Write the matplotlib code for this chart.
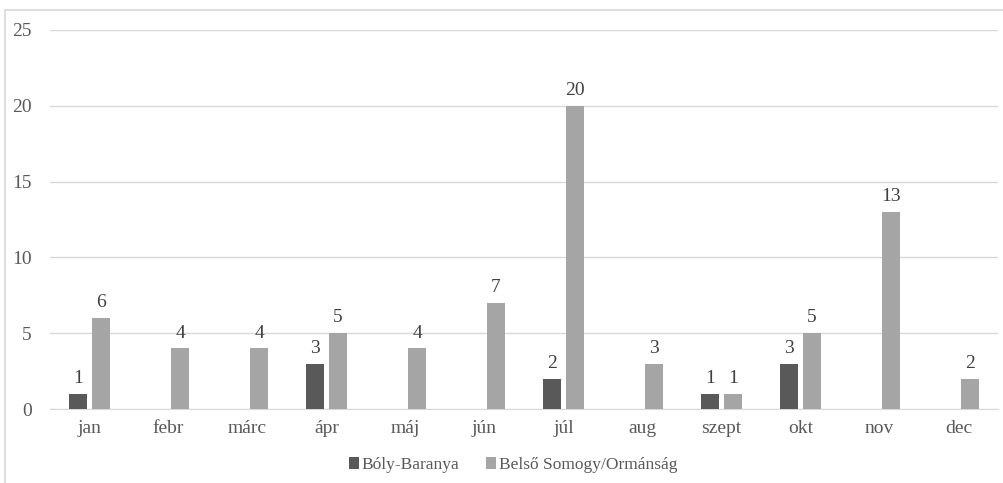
import numpy as np
import matplotlib.pyplot as plt
from matplotlib.patches import Rectangle

months = ["jan", "febr", "márc", "ápr", "máj", "jún", "júl", "aug", "szept", "okt", "nov", "dec"]
boly = [1, 0, 0, 3, 0, 0, 2, 0, 1, 3, 0, 0]
belso = [6, 4, 4, 5, 4, 7, 20, 3, 1, 5, 13, 2]
series_names = ["Bóly-Baranya", "Belső Somogy/Ormánság"]
colors = ["#595959", "#a5a5a5"]

plt.rcParams['font.family'] = ['Liberation Serif', 'DejaVu Serif']

fig = plt.figure(figsize=(10.04, 4.83), dpi=100)
ax = fig.add_axes([0.0498, 0.153, 0.9442, 0.785])

x = np.arange(len(months))
w = 0.228
off = 0.146

for vals, dx, c, name in [(boly, -off, colors[0], series_names[0]), (belso, off, colors[1], series_names[1])]:
    pos = [xi + dx for xi, v in zip(x, vals) if v > 0]
    hv = [v for v in vals if v > 0]
    bars = ax.bar(pos, hv, width=w, color=c, label=name, zorder=3)
    for b, v in zip(bars, hv):
        ax.text(b.get_x() + b.get_width() / 2, v + 0.45, str(v), ha="center", va="bottom",
                fontsize=14, color="#404040")

ax.set_xlim(-0.5, len(months) - 0.5)
ax.set_ylim(0, 25)
ax.set_yticks([0, 5, 10, 15, 20, 25])
ax.set_xticks(x)
ax.set_xticklabels(months)
ax.grid(axis="y", color="#d9d9d9", linewidth=1, zorder=0)
for s in ["top", "right", "left"]:
    ax.spines[s].set_visible(False)
ax.spines["bottom"].set_color("#d9d9d9")
ax.tick_params(axis="both", length=0, labelsize=14, labelcolor="#595959")
ax.tick_params(axis="y", pad=13)
ax.tick_params(axis="x", pad=8)

handles, labels = ax.get_legend_handles_labels()
fig.legend(handles, labels, loc="center", bbox_to_anchor=(0.511, 0.037), ncol=2, frameon=False,
           fontsize=12.5, handlelength=0.6, handleheight=0.6, handletextpad=0.15,
           columnspacing=1.5, labelcolor="#595959")

# outer chart border
fig.patches.append(Rectangle((5 / 1004, -0.05), 1.1, (483 - 10) / 483 + 0.05,
                             transform=fig.transFigure, fill=False,
                             edgecolor="#d9d9d9", linewidth=1.2))

fig.savefig("out.png", dpi=100)
